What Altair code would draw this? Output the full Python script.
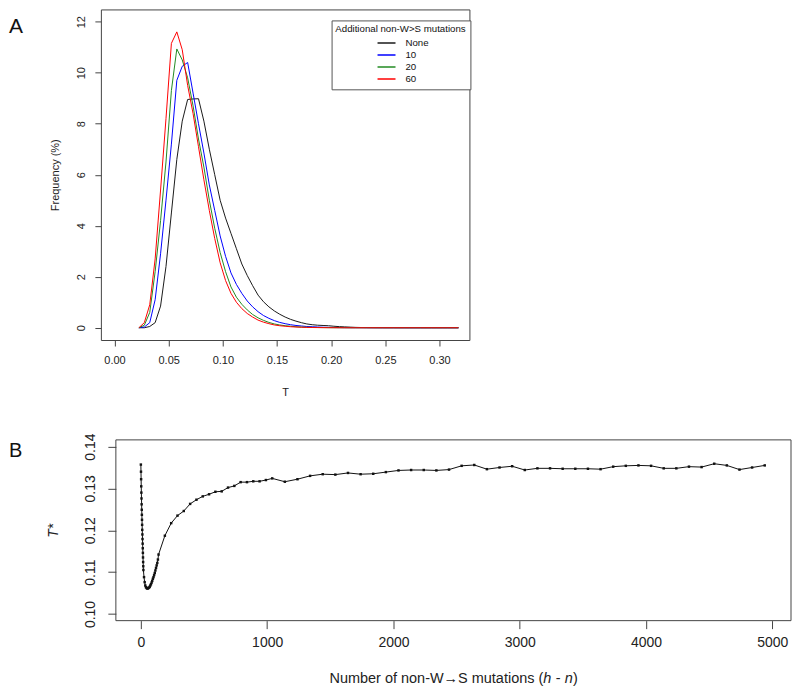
import altair as alt
import pandas as pd

FONT = "Liberation Sans"

# ---------------- Panel A data ----------------
T_BINS = [0.0225, 0.0275, 0.0325, 0.0375, 0.0425, 0.0475, 0.0525, 0.0575, 0.0625, 0.0675,
          0.0725, 0.0775, 0.0825, 0.0875, 0.0925, 0.0975, 0.1025, 0.1075, 0.1125, 0.1175,
          0.1225, 0.1275, 0.1325, 0.1375, 0.1425, 0.1475, 0.1525, 0.1575, 0.1625, 0.1675,
          0.1725, 0.1775, 0.1825, 0.1875, 0.1925, 0.1975, 0.2025, 0.2075, 0.2125, 0.2175,
          0.2225, 0.2275, 0.2325, 0.2375, 0.2425, 0.2475, 0.2525, 0.2575, 0.2625, 0.2675,
          0.2725, 0.2775, 0.2825, 0.2875, 0.2925, 0.2975, 0.3025, 0.3075, 0.3125, 0.3175]

FREQ_NONE = [0, 0, 0.05, 0.2, 0.85, 2.4, 4.5, 6.6, 8.1, 8.95,
             8.97, 8.98, 8.1, 7.0, 6.0, 5.0, 4.3, 3.7, 3.1, 2.5,
             2.05, 1.65, 1.28, 1.02, 0.82, 0.66, 0.53, 0.42, 0.33, 0.26,
             0.2, 0.15, 0.12, 0.1, 0.09, 0.08, 0.06, 0.045, 0.035, 0.025,
             0.015, 0.01, 0.008, 0.006, 0.004, 0.003, 0.002, 0.002, 0.001, 0.001,
             0, 0, 0, 0, 0, 0, 0, 0, 0, 0]

FREQ_10 = [0, 0.03, 0.2, 1.1, 2.9, 5.0, 7.2, 9.7, 10.25, 10.4,
           9.2, 8.0, 6.85, 5.6, 4.6, 3.6, 2.8, 2.15, 1.7, 1.35,
           1.05, 0.82, 0.63, 0.48, 0.37, 0.28, 0.21, 0.16, 0.12, 0.09,
           0.07, 0.05, 0.04, 0.03, 0.02, 0.015, 0.01, 0.008, 0.006, 0.004,
           0.003, 0.002, 0.001, 0, 0, 0, 0, 0, 0, 0,
           0, 0, 0, 0, 0, 0, 0, 0, 0, 0]

FREQ_20 = [0, 0.1, 0.6, 2.2, 4.2, 6.5, 9.3, 10.93, 10.5, 9.8,
           8.7, 7.4, 6.3, 5.0, 3.9, 2.95, 2.2, 1.6, 1.2, 0.92,
           0.7, 0.52, 0.39, 0.29, 0.21, 0.15, 0.11, 0.08, 0.06, 0.04,
           0.03, 0.02, 0.015, 0.01, 0.007, 0.005, 0.003, 0.002, 0.001, 0,
           0, 0, 0, 0, 0, 0, 0, 0, 0, 0,
           0, 0, 0, 0, 0, 0, 0, 0, 0, 0]

FREQ_60 = [0, 0.2, 0.9, 2.7, 5.4, 8.2, 11.15, 11.6, 10.9, 9.5,
           8.4, 7.1, 5.8, 4.6, 3.5, 2.55, 1.85, 1.35, 1.0, 0.75,
           0.56, 0.42, 0.3, 0.22, 0.16, 0.11, 0.08, 0.06, 0.04, 0.03,
           0.02, 0.015, 0.01, 0.007, 0.005, 0.003, 0.002, 0.001, 0, 0,
           0, 0, 0, 0, 0, 0, 0, 0, 0, 0,
           0, 0, 0, 0, 0, 0, 0, 0, 0, 0]

SERIES = ["None", "10", "20", "60"]
COLORS = ["#1a1a1a", "#0000ff", "#228b22", "#ff0000"]
A_X_TICKS = [0.0, 0.05, 0.10, 0.15, 0.20, 0.25, 0.30]
A_Y_TICKS = [0, 2, 4, 6, 8, 10, 12]

# ---------------- Panel B data ----------------
H_MINUS_N = [0, 1, 2, 3, 4, 5, 6, 7, 8, 9, 10, 11, 12, 13, 14, 15, 16, 17, 18, 19, 20,
             25, 30, 35, 40, 45, 50, 55, 60, 65, 70, 75, 80, 85, 90, 95, 100,
             105, 110, 115, 120, 125, 130, 135, 140,
             190, 240, 290, 340, 390, 440, 490, 540, 590, 640, 690, 740, 790, 840,
             890, 940, 990, 1040,
             1140, 1240, 1340, 1440, 1540, 1640, 1740, 1840, 1940, 2040, 2140, 2240,
             2340, 2440, 2540, 2640, 2740, 2840, 2940, 3040, 3140, 3240, 3340, 3440,
             3540, 3640, 3740, 3840, 3940, 4040, 4140, 4240, 4340, 4440, 4540, 4640,
             4740, 4840, 4940]
T_STAR = [0.1357, 0.1340, 0.1322, 0.1305, 0.1290, 0.1276, 0.1262, 0.1249, 0.1237, 0.1225,
          0.1213, 0.1201, 0.1190, 0.1179, 0.1168, 0.1157, 0.1146, 0.1135, 0.1124, 0.1114,
          0.1105,
          0.1088, 0.1076, 0.1068, 0.1064, 0.1062, 0.1061, 0.1061, 0.1062, 0.1063, 0.1065,
          0.1068, 0.1071, 0.1075, 0.1079, 0.1084, 0.1088,
          0.1093, 0.1098, 0.1104, 0.1110, 0.1116, 0.1122, 0.1130, 0.1142,
          0.1187, 0.1217, 0.1235, 0.1246, 0.1263, 0.1273, 0.1281, 0.1286, 0.1292, 0.1293,
          0.1302, 0.1306, 0.1315, 0.1315, 0.1317, 0.1317, 0.1320, 0.1324,
          0.1316, 0.1322, 0.1330, 0.1334, 0.1333, 0.1337, 0.1334, 0.1335, 0.1339, 0.1343,
          0.1344, 0.1344, 0.1343, 0.1345, 0.1354, 0.1356, 0.1346, 0.1350, 0.1353, 0.1344,
          0.1348, 0.1348, 0.1347, 0.1347, 0.1347, 0.1346, 0.1352, 0.1354, 0.1355, 0.1354,
          0.1348, 0.1348, 0.1352, 0.1351, 0.1359, 0.1355, 0.1345, 0.1350, 0.1355]
B_X_TICKS = [0, 1000, 2000, 3000, 4000, 5000]
B_Y_TICKS = [0.10, 0.11, 0.12, 0.13, 0.14]

# x-axis title of panel B, split so that h and n can be italic
B_TITLE_PARTS = ["Number of non-W\u2192S mutations (", "h", "-", "n", ")"]
B_TITLE_STYLE = ["normal", "italic", "normal", "italic", "normal"]
B_TITLE_ALIGN = ["right", "left", "left", "left", "left"]
B_TITLE_X = [443, 443, 455.5, 464.5, 472.6]

# ---------------- tables ----------------
rows = []
for name, vals in zip(SERIES, [FREQ_NONE, FREQ_10, FREQ_20, FREQ_60]):
    for t, f in zip(T_BINS, vals):
        rows.append({"T": t, "freq": f, "series": name})
dfA = pd.DataFrame(rows)
dfB = pd.DataFrame({"hn": H_MINUS_N, "tstar": T_STAR})

AX = "#444444"

# ---------------- Panel A ----------------
linesA = alt.Chart(dfA).mark_line(strokeWidth=1, clip=True).encode(
    x=alt.X("T:Q",
            scale=alt.Scale(domain=[-0.0126, 0.3276], nice=False, zero=False),
            axis=alt.Axis(values=A_X_TICKS, format=".2f", title="T",
                          labelFontSize=11, titleFontSize=11, tickSize=6,
                          labelPadding=9, labelFlush=False, labelOverlap=False,
                          titleY=53, titleBaseline="middle")),
    y=alt.Y("freq:Q",
            scale=alt.Scale(domain=[-0.48, 12.48], nice=False, zero=False),
            axis=alt.Axis(values=A_Y_TICKS, format="d", title="Frequency (%)",
                          labelFontSize=11, titleFontSize=11, tickSize=6,
                          labelAngle=270, labelAlign="center", labelBaseline="bottom",
                          labelPadding=8, labelFlush=False, labelOverlap=False,
                          titleX=-45, titleY=165.5, titleBaseline="middle",
                          titleAlign="center")),
    color=alt.Color("series:N",
                    scale=alt.Scale(domain=SERIES, range=COLORS),
                    legend=alt.Legend(title="Additional non-W>S mutations",
                                      orient="none", legendX=231, legendY=11,
                                      titleFontSize=9.7, titleFontWeight="normal",
                                      titleFont=FONT, titleColor="#111",
                                      titlePadding=3, titleAnchor="middle",
                                      labelFontSize=9.7, labelFont=FONT, labelColor="#111",
                                      symbolType="stroke", symbolSize=324,
                                      symbolStrokeWidth=1.5, symbolOffset=4,
                                      labelOffset=9, clipHeight=11.8, rowPadding=0,
                                      padding=4, strokeColor="#555555",
                                      fillColor="white", cornerRadius=0)),
    order=alt.Order("T:Q"),
)

labA = alt.Chart(pd.DataFrame({"t": ["A"]})).mark_text(
    font=FONT, fontSize=21, align="left", baseline="middle", color="#111"
).encode(text="t:N", x=alt.value(-92), y=alt.value(18))

panelA = alt.layer(linesA, labA).properties(width=369, height=331)

# ---------------- Panel B ----------------
# the group starts at the same left edge as panel A; the plot frame starts 15px further right
frameB = alt.Chart(pd.DataFrame({"t": [0]})).mark_rect(
    fill="transparent", stroke=AX, strokeWidth=1
).encode(x=alt.value(15), x2=alt.value(691), y=alt.value(0), y2=alt.value(181))

lineB = alt.Chart(dfB).mark_line(
    color="#111", strokeWidth=1,
    point=alt.OverlayMarkDef(filled=True, size=6, shape="square", color="#111"),
).encode(
    x=alt.X("hn:Q",
            scale=alt.Scale(domain=[-198, 5148], nice=False, zero=False, range=[15, 691]),
            axis=alt.Axis(values=B_X_TICKS, format="d", title="",
                          labelFontSize=14, tickSize=8,
                          labelPadding=7, labelFlush=False, labelOverlap=False)),
    y=alt.Y("tstar:Q",
            scale=alt.Scale(domain=[0.0984, 0.1416], nice=False, zero=False),
            axis=alt.Axis(values=B_Y_TICKS, format=".2f", title="T*", offset=-15,
                          labelFontSize=14, titleFontSize=14, tickSize=8,
                          labelAngle=270, labelAlign="center", labelBaseline="bottom",
                          labelPadding=10, labelFlush=False, labelOverlap=False,
                          titleFontStyle="italic",
                          titleX=-62, titleY=90.5, titleBaseline="middle",
                          titleAlign="center")),
    order=alt.Order("hn:Q"),
)

labB = alt.Chart(pd.DataFrame({"t": ["B"]})).mark_text(
    font=FONT, fontSize=20, align="left", baseline="middle", color="#111"
).encode(text="t:N", x=alt.value(-92), y=alt.value(11))

title_layers = []
for part, style, align, xpos in zip(B_TITLE_PARTS, B_TITLE_STYLE, B_TITLE_ALIGN, B_TITLE_X):
    title_layers.append(
        alt.Chart(pd.DataFrame({"t": [part]})).mark_text(
            font=FONT, fontSize=14.5, fontStyle=style, align=align,
            baseline="middle", color="#222"
        ).encode(text="t:N", x=alt.value(xpos), y=alt.value(239))
    )

panelB = alt.layer(frameB, lineB, labB, *title_layers).properties(
    width=691, height=181, view=alt.ViewConfig(stroke="transparent")
)

chart = alt.concat(panelA, panelB, columns=1, spacing=33).properties(
    padding=0
).configure_view(
    stroke=AX, strokeWidth=1
).configure_axis(
    domain=False, grid=False, tickColor=AX, tickWidth=1,
    labelColor="#222", titleColor="#222", labelFont=FONT, titleFont=FONT,
    titleFontWeight="normal"
).configure_text(font=FONT)

chart.save("out.html", embed_options={"renderer": "svg", "actions": False})
